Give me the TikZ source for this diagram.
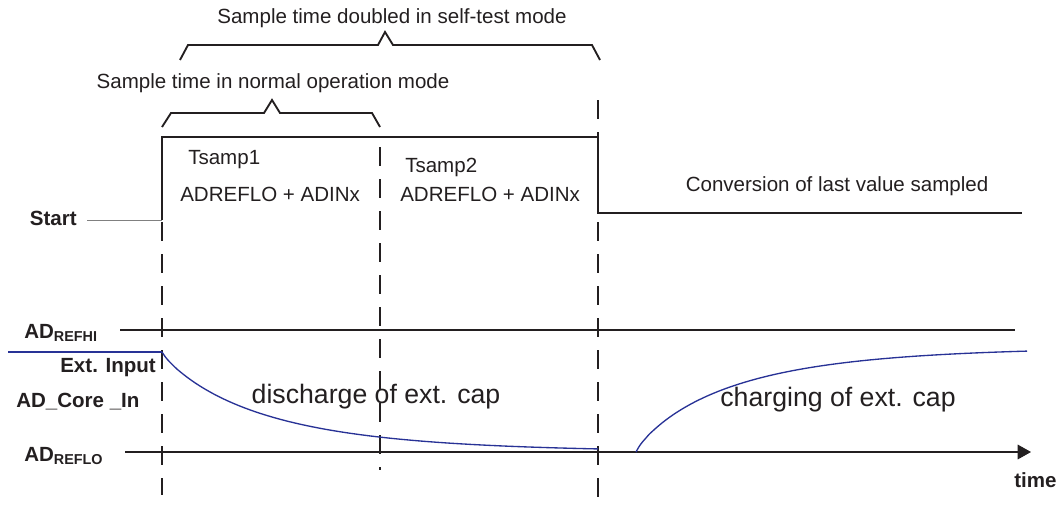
\documentclass[tikz,border=0pt]{standalone}
\usepackage{fontspec}
\setmainfont{Liberation Sans}
\usepackage{tikz}
\usetikzlibrary{arrows.meta, positioning}
\definecolor{adblue}{RGB}{40, 50, 150}
\definecolor{darkgray}{RGB}{35, 31, 32}

\begin{document}
\begin{tikzpicture}[
    x=0.75pt, y=-0.75pt,
    txt/.style={font=\fontsize{15.4}{18}\selectfont, text=darkgray, inner sep=0pt},
    lbl/.style={font=\fontsize{15.4}{18}\selectfont\bfseries, text=darkgray, inner sep=0pt},
    big/.style={font=\fontsize{20}{24}\selectfont, text=darkgray, inner sep=0pt},
    pulse/.style={draw=darkgray, line width=1.5pt},
    brace/.style={draw=darkgray, line width=1.4pt},
    level/.style={draw=darkgray, line width=0.8pt},
    vdash/.style={draw=darkgray, line width=0.8pt, dash pattern=on 14pt off 10pt},
    sig/.style={draw=adblue, line width=1pt}
]
    \useasboundingbox (0,0) rectangle (1056,521);

    % time marks
    \coordinate (t0) at (162, 0);
    \coordinate (t1) at (380, 0);
    \coordinate (t2) at (598, 0);

    % braces
    \draw [brace] (180,60) -- (188,45) -- (378,45) -- (385,32) -- (393,45) -- (592,45) -- (600,60);
    \draw [brace] (162,127) -- (171,113) -- (264,113) -- (272,100) -- (280,113) -- (372,113) -- (380,127);
    \node [txt] (double) at (392,18) {Sample time doubled in self-test mode};
    \node [txt] (normal) at (273,83) {Sample time in normal operation mode};

    % start signal
    \draw [gray, line width=0.6pt] (87,220) -- (162,220);
    \draw [pulse] (162,220) -- (162,137) -- (598,137) -- (598,213) -- (1022,213);
    \node [lbl, anchor=east] (start) at (77,218) {Start};

    % dashed time lines
    \draw [vdash] (t0 |- 0,222) -- (t0 |- 0,495);
    \draw [vdash] (t1 |- 0,147) -- (t1 |- 0,470);
    \draw [vdash] (t2 |- 0,100) -- (t2 |- 0,137);
    \draw [vdash] (t2 |- 0,222) -- (t2 |- 0,497);

    \node [txt, anchor=west] (ts1) at (188,160) {Tsamp1};
    \node [txt, anchor=west] (ad1) at (180,194) {ADREFLO + ADINx};
    \node [txt, anchor=west] (ts2) at (405,167) {Tsamp2};
    \node [txt, anchor=west] (ad2) at (400,194) {ADREFLO + ADINx};
    \node [txt] (conv) at (837,186) {Conversion of last value sampled};

    % reference levels
    \draw [level] (120,330) -- (1015,330);
    \node [lbl, anchor=west] (refhi) at (24,333) {AD\textsubscript{REFHI}};
    \draw [level, -{Triangle[length=10pt, width=11pt]}] (125,452) -- (1031,452);
    \node [lbl, anchor=west] (reflo) at (24,456) {AD\textsubscript{REFLO}};
    \node [lbl, anchor=west] (time) at (1014,480) {time};

    % input voltage
    \draw [sig, line width=1.6pt] (8,352) -- (162,352);
    \draw [sig] plot [domain=0.01:436, samples=120, smooth]
        ({162+\x}, {452-100*exp(-pow(\x/104,0.87))});
    \draw [sig] plot [domain=0.01:391, samples=120, smooth]
        ({636+\x}, {452-105*(1-exp(-pow(\x/98,0.85)))});
    \node [lbl, anchor=east] (ext) at (156,368) {Ext. Input};
    \node [lbl, anchor=west] (core) at (16,402) {AD\_Core \_In};

    \node [big] (dis) at (376,397) {discharge of ext. cap};
    \node [big] (chg) at (838,400) {charging of ext. cap};

\end{tikzpicture}
\end{document}
